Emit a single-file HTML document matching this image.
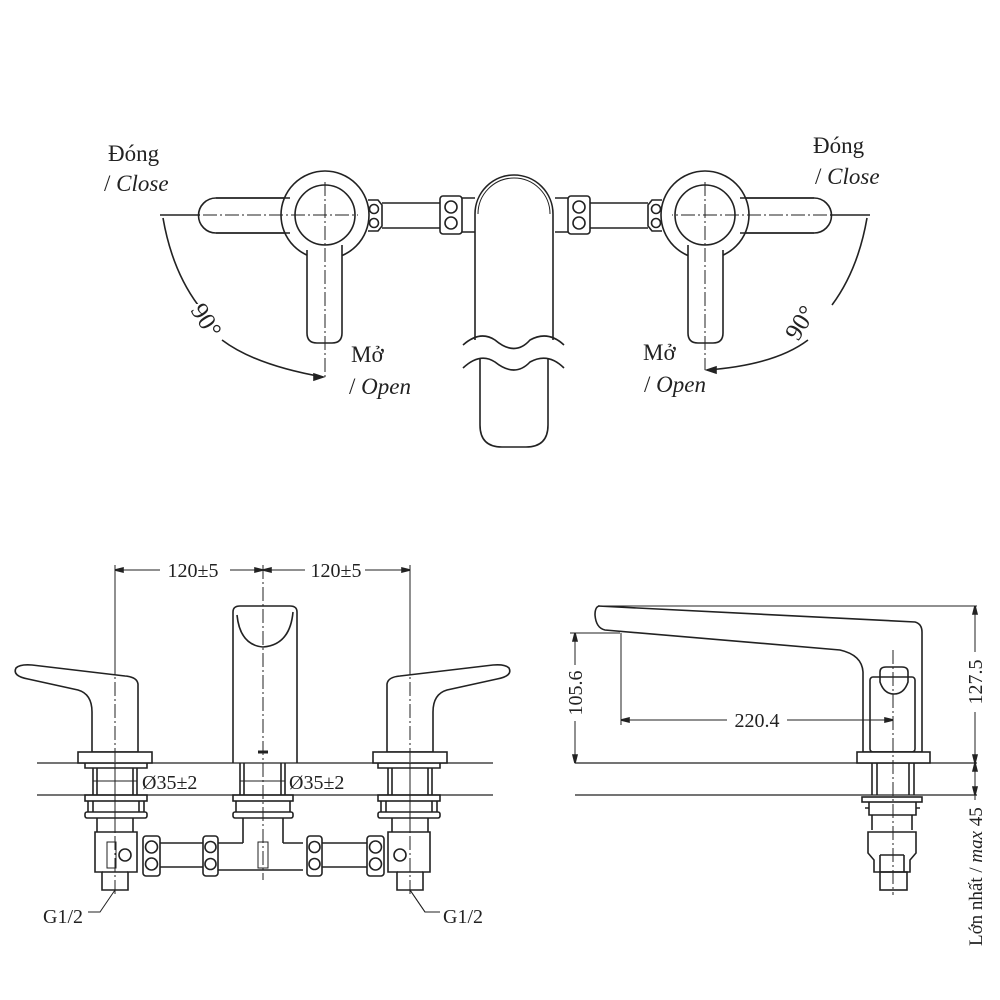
<!DOCTYPE html>
<html><head><meta charset="utf-8"><style>
html,body{margin:0;padding:0;background:#fff;}
svg{display:block;}
text{font-family:"Liberation Serif",serif;fill:#222;}
</style></head><body>
<svg width="1000" height="1000" viewBox="0 0 1000 1000" xmlns="http://www.w3.org/2000/svg">
<g fill="none" stroke="#222" stroke-width="1.6">
<!-- ===== TOP VIEW ===== -->
<g>
  <path d="M216,198 L300,198 M300,233 L216,233 A17.5,17.5 0 0 1 216,198" />
  <circle cx="325" cy="215" r="44" fill="#fff"/>
  <path d="M307,250 L307,333 Q307,343 317,343 L332,343 Q342,343 342,333 L342,245" fill="#fff"/>
  <path d="M216,198 L290,198 M290,233 L216,233" />
  <circle cx="325" cy="215" r="30" fill="#fff"/>
  <path d="M203,215 L358,215 M325,182 L325,380" stroke-width="1" stroke-dasharray="14,3,2,3"/>
  <path d="M368,200 L378,200 L382,205 L382,226 L378,231 L368,231" />
  <circle cx="374" cy="209" r="4.5"/><circle cx="374" cy="223" r="4.5"/>
  <path d="M382,203 L440,203 M382,228 L440,228"/>
  <rect x="440" y="196" width="22" height="38" rx="3"/>
  <circle cx="451" cy="207" r="6"/><circle cx="451" cy="223" r="6"/>
  <path d="M462,198 L475,198 M462,232 L475,232"/>
  <path d="M160,215 L200,215"/>
  <path d="M163,218 Q172,270 198,305 M222,340 Q255,365 323,377" />
  <path d="M323,377 L314,374 L314,380 Z" fill="#222"/>
</g>
<g transform="translate(1030,0) scale(-1,1)">
  <path d="M216,198 L300,198 M300,233 L216,233 A17.5,17.5 0 0 1 216,198" />
  <circle cx="325" cy="215" r="44" fill="#fff"/>
  <path d="M307,250 L307,333 Q307,343 317,343 L332,343 Q342,343 342,333 L342,245" fill="#fff"/>
  <path d="M216,198 L290,198 M290,233 L216,233" />
  <circle cx="325" cy="215" r="30" fill="#fff"/>
  <path d="M203,215 L358,215 M325,182 L325,370" stroke-width="1" stroke-dasharray="14,3,2,3"/>
  <path d="M368,200 L378,200 L382,205 L382,226 L378,231 L368,231" />
  <circle cx="374" cy="209" r="4.5"/><circle cx="374" cy="223" r="4.5"/>
  <path d="M382,203 L440,203 M382,228 L440,228"/>
  <rect x="440" y="196" width="22" height="38" rx="3"/>
  <circle cx="451" cy="207" r="6"/><circle cx="451" cy="223" r="6"/>
  <path d="M462,198 L475,198 M462,232 L475,232"/>
  <path d="M160,215 L200,215"/>
  <path d="M163,218 Q172,270 198,305 M222,340 Q255,365 323,370" />
  <path d="M323,370 L314,367 L314,373 Z" fill="#222"/>
</g>
<path d="M475,340 L475,214 A39,39 0 0 1 553,214 L553,340" fill="#fff"/>
<path d="M478,214 A36,36 0 0 1 550,214" stroke-width="1"/>
<path d="M480,358 L480,425 Q480,447 502,447 L526,447 Q548,447 548,425 L548,358"/>
<path d="M463,345 Q480,330 495,340 Q515,357 530,340 Q548,330 564,345"/>
<path d="M463,368 Q480,352 495,362 Q515,378 530,362 Q548,352 564,368"/>

<!-- ===== FRONT VIEW ===== -->
<path d="M37,763 L493,763 M37,795 L493,795" stroke-width="1.2"/>
<path d="M115,570 L410,570" stroke-width="1"/>
<path d="M115,565 L115,870 M410,565 L410,870" stroke-width="1"/>
<path d="M115,570 L123,568 L123,572 Z M410,570 L402,568 L402,572 Z M263,570 L255,568 L255,572 Z M263,570 L271,568 L271,572 Z" fill="#222"/>
<path d="M263,565 L263,880" stroke-width="1" stroke-dasharray="14,3,2,3"/>
<g>
  <path d="M16,668 Q12,676 28,679 L78,690 Q92,694 92,712 L92,752 L138,752 L138,684 Q137,677 125,676 L32,665 Q20,664 16,668 Z" fill="#fff"/>
  <rect x="78" y="752" width="74" height="11" fill="#fff"/>
  <path d="M85,763 L85,768 L147,768 L147,763"/>
  <path d="M93,768 L93,795 M97,768 L97,795 M133,768 L133,795 M137,768 L137,795"/>
  <rect x="85" y="795" width="62" height="6"/>
  <path d="M88,801 L88,812 M93,801 L93,812 M139,801 L139,812 M144,801 L144,812"/>
  <rect x="85" y="812" width="62" height="6" rx="2"/>
  <path d="M97,818 L97,832 M133,818 L133,832"/>
  <path d="M95,832 L137,832 L137,872 L128,872 L128,890 L102,890 L102,872 L95,872 Z" fill="#fff"/>
  <path d="M102,872 L128,872"/>
  <rect x="107" y="842" width="9" height="26" stroke-width="1"/>
  <circle cx="125" cy="855" r="6"/>
  <path d="M115,890 L100,912 L88,912" stroke-width="1"/>
  <path d="M115,660 L115,895" stroke-width="1" stroke-dasharray="14,3,2,3"/>
</g>
<g transform="translate(525,0) scale(-1,1)">
  <path d="M16,668 Q12,676 28,679 L78,690 Q92,694 92,712 L92,752 L138,752 L138,684 Q137,677 125,676 L32,665 Q20,664 16,668 Z" fill="#fff"/>
  <rect x="78" y="752" width="74" height="11" fill="#fff"/>
  <path d="M85,763 L85,768 L147,768 L147,763"/>
  <path d="M93,768 L93,795 M97,768 L97,795 M133,768 L133,795 M137,768 L137,795"/>
  <rect x="85" y="795" width="62" height="6"/>
  <path d="M88,801 L88,812 M93,801 L93,812 M139,801 L139,812 M144,801 L144,812"/>
  <rect x="85" y="812" width="62" height="6" rx="2"/>
  <path d="M97,818 L97,832 M133,818 L133,832"/>
  <path d="M95,832 L137,832 L137,872 L128,872 L128,890 L102,890 L102,872 L95,872 Z" fill="#fff"/>
  <path d="M102,872 L128,872"/>
  <circle cx="125" cy="855" r="6"/>
  <path d="M115,890 L100,912 L88,912" stroke-width="1"/>
  <path d="M115,660 L115,895" stroke-width="1" stroke-dasharray="14,3,2,3"/>
</g>
<path d="M233,763 L233,612 Q233,606 240,606 L290,606 Q297,606 297,612 L297,763" />
<path d="M237,615 Q240,645 263,647 Q290,645 293,612"/>
<path d="M258,752 L268,752" stroke-width="3"/>
<path d="M240,763 L240,795 M244,763 L244,795 M281,763 L281,795 M285,763 L285,795"/>
<rect x="233" y="795" width="60" height="6"/>
<path d="M236,801 L236,812 M290,801 L290,812"/>
<rect x="233" y="812" width="60" height="6" rx="2"/>
<path d="M243,818 L243,843 M283,818 L283,843"/>
<path d="M218,843 L243,843 M283,843 L303,843 M218,870 L303,870"/>
<rect x="258" y="842" width="10" height="26" stroke-width="1"/>
<rect x="143" y="836" width="17" height="40" rx="3"/><circle cx="151.5" cy="847" r="6"/><circle cx="151.5" cy="864" r="6"/>
<path d="M160,843 L203,843 M160,867 L203,867"/>
<rect x="203" y="836" width="15" height="40" rx="3"/><circle cx="210.5" cy="847" r="5.5"/><circle cx="210.5" cy="864" r="5.5"/>
<rect x="307" y="836" width="15" height="40" rx="3"/><circle cx="314.5" cy="847" r="5.5"/><circle cx="314.5" cy="864" r="5.5"/>
<path d="M322,843 L367,843 M322,867 L367,867"/>
<rect x="367" y="836" width="17" height="40" rx="3"/><circle cx="375.5" cy="847" r="6"/><circle cx="375.5" cy="864" r="6"/>
<path d="M93,781 L137,781 M240,781 L285,781" stroke-width="1"/>

<!-- ===== SIDE VIEW ===== -->
<path d="M575,763 L977,763 M575,795 L977,795" stroke-width="1.2"/>
<path d="M600,606 L977,606" stroke-width="1"/>
<path d="M598,606 L915,622 Q922,624 922,632 L922,752 L863,752 L863,672 Q862,655 840,650 L605,630 Q596,628 595,615 Q595,606 600,606 Z" fill="#fff"/>
<rect x="870" y="677" width="45" height="75" rx="3"/>
<path d="M880,672 Q880,667 886,667 L902,667 Q908,667 908,672 L908,682 Q904,694 894,694 Q884,694 880,682 Z"/>
<rect x="857" y="752" width="73" height="11" fill="#fff"/>
<path d="M872,763 L872,795 M877,763 L877,795 M909,763 L909,795 M914,763 L914,795"/>
<rect x="862" y="797" width="60" height="5"/>
<path d="M869,802 L869,815 L916,815 L916,802 M865,808 L869,808 M916,808 L920,808"/>
<path d="M872,815 L872,830 M912,815 L912,830"/>
<path d="M868,832 L916,832 L916,853 L910,860 L910,872 L874,872 L874,860 L868,853 Z"/>
<path d="M880,855 L904,855 M880,855 L880,872 M904,855 L904,872"/>
<rect x="880" y="872" width="27" height="18"/>
<path d="M893,650 L893,895" stroke-width="1" stroke-dasharray="14,3,2,3"/>
<path d="M575,633 L575,763 M570,633 L620,633" stroke-width="1"/>
<path d="M575,633 L573,641 L577,641 Z M575,763 L573,755 L577,755 Z" fill="#222"/>
<path d="M621,633 L621,725 M621,720 L893,720" stroke-width="1"/>
<path d="M621,720 L629,718 L629,722 Z M893,720 L885,718 L885,722 Z" fill="#222"/>
<path d="M975,606 L975,800" stroke-width="1"/>
<path d="M975,606 L973,614 L977,614 Z M975,763 L973,755 L977,755 Z M975,763 L973,771 L977,771 Z M975,795 L973,787 L977,787 Z" fill="#222"/>
</g>

<rect x="160" y="561" width="70" height="18" fill="#fff"/>
<rect x="305" y="561" width="60" height="18" fill="#fff"/>
<rect x="727" y="711" width="60" height="18" fill="#fff"/>
<rect x="566" y="665" width="18" height="56" fill="#fff"/>
<rect x="966" y="652" width="18" height="60" fill="#fff"/>
<rect x="966" y="800" width="18" height="148" fill="#fff"/>
<rect x="186" y="304" width="36" height="36" fill="#fff"/>
<rect x="792" y="302" width="36" height="36" fill="#fff"/>

<text x="108" y="161" font-size="23">Đóng</text>
<text x="104" y="191" font-size="23">/ <tspan font-style="italic">Close</tspan></text>
<text x="351" y="362" font-size="23">Mở</text>
<text x="349" y="394" font-size="23">/ <tspan font-style="italic">Open</tspan></text>
<text x="813" y="153" font-size="23">Đóng</text>
<text x="815" y="184" font-size="23">/ <tspan font-style="italic">Close</tspan></text>
<text x="643" y="360" font-size="23">Mở</text>
<text x="644" y="392" font-size="23">/ <tspan font-style="italic">Open</tspan></text>
<text font-size="25" transform="translate(190,310) rotate(58)">90°</text>
<text font-size="25" transform="translate(798,342) rotate(-58)">90°</text>

<text x="193" y="577" font-size="20" text-anchor="middle">120±5</text>
<text x="336" y="577" font-size="20" text-anchor="middle">120±5</text>
<text x="142" y="789" font-size="20">Ø35±2</text>
<text x="289" y="789" font-size="20">Ø35±2</text>
<text x="43" y="923" font-size="20">G1/2</text>
<text x="443" y="923" font-size="20">G1/2</text>
<path d="M410,890 L425,912 L440,912" stroke="#222" stroke-width="1" fill="none"/>

<text x="757" y="727" font-size="20" text-anchor="middle">220.4</text>
<text font-size="20" transform="translate(582,693) rotate(-90)" text-anchor="middle">105.6</text>
<text font-size="20" transform="translate(982,682) rotate(-90)" text-anchor="middle">127.5</text>
<text font-size="19" transform="translate(982,946) rotate(-90)">Lớn nhất / <tspan font-style="italic">max</tspan> 45</text>
</svg>
</body></html>
